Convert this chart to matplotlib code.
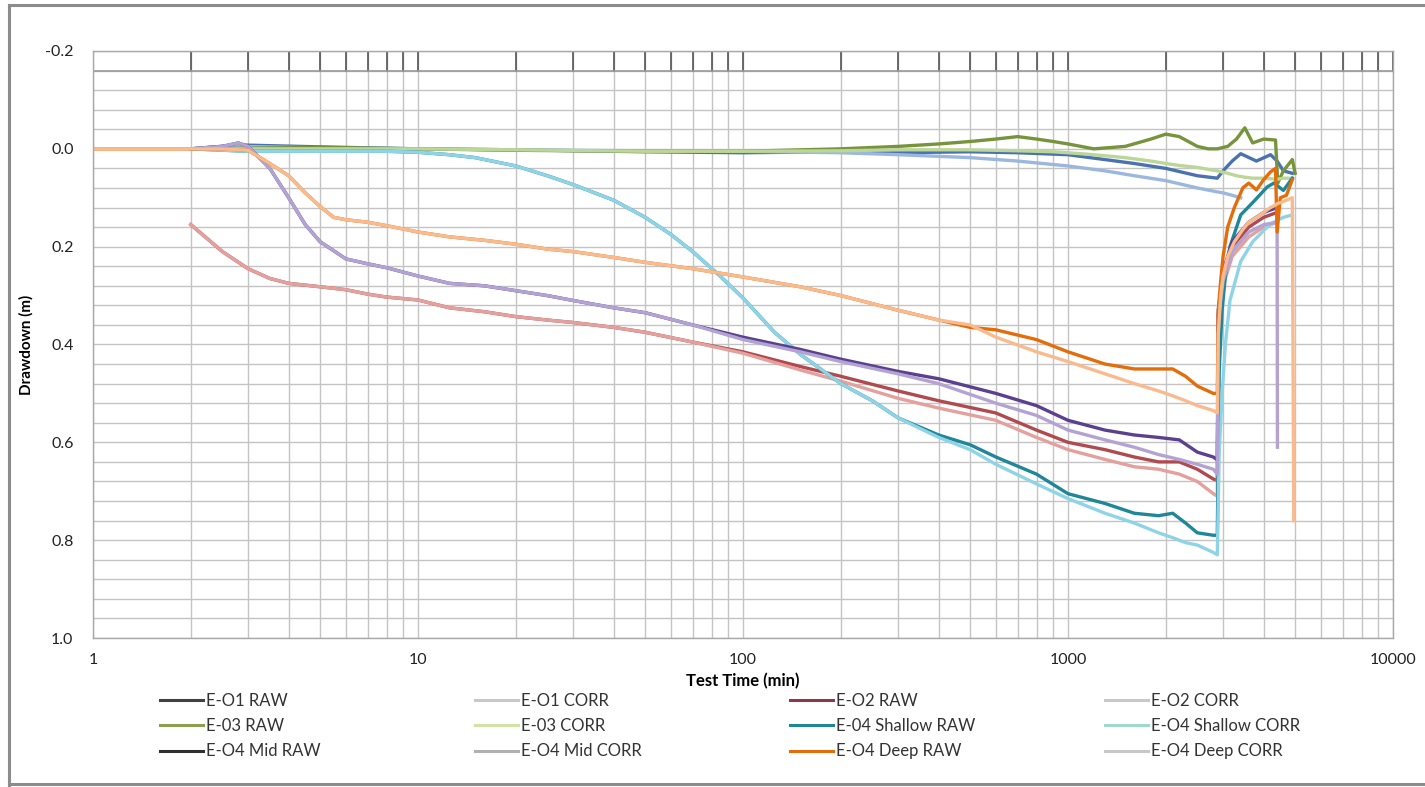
import numpy as np
import matplotlib
matplotlib.use('Agg')
import matplotlib.pyplot as plt
from matplotlib.ticker import MultipleLocator, FixedLocator, FixedFormatter, NullFormatter
from matplotlib.lines import Line2D

plt.rcParams['font.family'] = ['Lato', 'DejaVu Sans']
nan = np.nan

# ---- data (time in min, drawdown in m) ----
# E-O1
t_o1 = [2, 2.8, 5, 10, 20, 50, 100, 200, 300, 500, 700, 1000, 1300, 1600, 2000, 2500,
        2880, 3000, 3200, 3400, 3800, 4200, 4400, 4600, 4900]
o1_raw = [0, -0.008, -0.004, 0, 0.002, 0.006, 0.008, 0.006, 0.008, 0.006, 0.008, 0.012, 0.022, 0.03,
          0.04, 0.055, 0.06, 0.045, 0.025, 0.01, 0.025, 0.012, 0.025, 0.045, 0.05]
o1_corr = [0, -0.005, -0.002, 0, 0.002, 0.004, 0.005, 0.008, 0.012, 0.018, 0.025, 0.035, 0.045, 0.055,
           0.065, 0.08, 0.088, 0.09, 0.095, 0.1, nan, nan, nan, nan, nan]

# E-O2
t_o2 = [2, 2.5, 3, 3.5, 4, 5, 6, 7, 8, 10, 12.5, 16, 20, 25, 30, 40, 50, 70, 100, 150, 200, 300,
        400, 600, 800, 1000, 1300, 1600, 1900, 2200, 2500, 2800, 2880,
        2900, 3000, 3200, 3600, 4000, 4400]
o2_raw = [0.155, 0.21, 0.245, 0.265, 0.275, 0.282, 0.288, 0.297, 0.303, 0.309, 0.325, 0.333, 0.343,
          0.35, 0.355, 0.365, 0.375, 0.395, 0.415, 0.445, 0.465, 0.495, 0.515, 0.54, 0.575, 0.6,
          0.615, 0.63, 0.64, 0.64, 0.655, 0.675, 0.678,
          0.34, 0.26, 0.2, 0.16, 0.14, 0.13]
o2_corr = [0.155, 0.21, 0.245, 0.265, 0.275, 0.282, 0.288, 0.297, 0.303, 0.309, 0.325, 0.333, 0.343,
           0.35, 0.355, 0.365, 0.375, 0.395, 0.418, 0.452, 0.475, 0.51, 0.53, 0.555, 0.59, 0.615,
           0.635, 0.65, 0.655, 0.665, 0.68, 0.705, 0.71,
           0.36, 0.28, 0.22, 0.18, 0.16, 0.15]

# E-03
t_e3 = [2, 5, 10, 20, 50, 100, 200, 300, 400, 500, 600, 700, 800, 900, 1000, 1200, 1500, 1800,
        2000, 2200, 2500, 2700, 2880, 3100, 3300, 3500, 3700, 4000, 4350, 4420, 4600, 4900, 5000]
e3_raw = [0, -0.003, 0, 0.003, 0.005, 0.005, 0.0, -0.005, -0.01, -0.015, -0.02, -0.025, -0.02,
          -0.015, -0.01, 0.0, -0.005, -0.02, -0.03, -0.025, -0.005, 0.0, 0.0, -0.005, -0.02,
          -0.043, -0.012, -0.02, -0.018, 0.07, 0.045, 0.022, 0.05]
e3_corr = [0, 0, 0, 0.002, 0.005, 0.005, 0.004, 0.002, 0.002, 0.002, 0.003, 0.004, 0.005, 0.006,
           0.008, 0.012, 0.018, 0.025, 0.03, 0.034, 0.038, 0.042, 0.045, 0.05, 0.055, 0.058, 0.06,
           0.06, 0.062, 0.062, 0.06, 0.06, nan]

# E-O4 Shallow
t_sh = [2, 3, 5, 8, 10, 12.5, 15, 20, 25, 30, 40, 50, 60, 70, 85, 100, 125, 150, 200, 250, 300,
        400, 500, 600, 800, 1000, 1300, 1600, 1900, 2100, 2300, 2500, 2800, 2880,
        2920, 2980, 3050, 3150, 3400, 3700, 4100, 4300, 4600, 4900]
sh_raw = [0, 0.005, 0.005, 0.005, 0.007, 0.012, 0.018, 0.035, 0.055, 0.073, 0.105, 0.14, 0.175,
          0.21, 0.26, 0.305, 0.375, 0.42, 0.48, 0.515, 0.55, 0.585, 0.605, 0.63, 0.665, 0.705,
          0.725, 0.745, 0.75, 0.745, 0.765, 0.785, 0.79, 0.79,
          0.45, 0.33, 0.26, 0.2, 0.135, 0.11, 0.078, 0.07, 0.085, 0.06]
sh_corr = [0, 0.005, 0.005, 0.005, 0.007, 0.012, 0.018, 0.035, 0.055, 0.073, 0.105, 0.14, 0.175,
           0.21, 0.26, 0.305, 0.375, 0.42, 0.48, 0.515, 0.55, 0.59, 0.615, 0.645, 0.685, 0.715,
           0.745, 0.765, 0.785, 0.795, 0.805, 0.81, 0.825, 0.83,
           0.62, 0.5, 0.4, 0.31, 0.23, 0.19, 0.16, 0.15, 0.14, 0.135]

# E-O4 Mid
t_md = [2, 2.5, 2.8, 3, 3.5, 4, 4.5, 5, 6, 7, 8, 10, 12.5, 16, 20, 25, 30, 40, 50, 70, 100, 150,
        200, 300, 400, 600, 800, 1000, 1300, 1600, 1900, 2200, 2500, 2800, 2880,
        2900, 3000, 3200, 3600, 4000, 4400, 4410]
md_raw = [0, -0.005, -0.012, -0.005, 0.04, 0.1, 0.155, 0.19, 0.225, 0.235, 0.243, 0.26, 0.275,
          0.28, 0.29, 0.3, 0.31, 0.325, 0.335, 0.36, 0.385, 0.41, 0.43, 0.455, 0.47, 0.5, 0.525,
          0.555, 0.575, 0.585, 0.59, 0.595, 0.62, 0.63, 0.636,
          0.33, 0.25, 0.19, 0.15, 0.13, 0.12, nan]
md_corr = [0, -0.005, -0.012, -0.005, 0.04, 0.1, 0.155, 0.19, 0.225, 0.235, 0.243, 0.26, 0.275,
           0.28, 0.29, 0.3, 0.31, 0.325, 0.335, 0.36, 0.39, 0.415, 0.435, 0.46, 0.48, 0.52, 0.545,
           0.575, 0.595, 0.61, 0.625, 0.635, 0.645, 0.655, 0.665,
           0.35, 0.27, 0.21, 0.17, 0.155, 0.15, 0.61]

# E-O4 Deep
t_dp = [1, 2, 2.5, 3, 3.5, 4, 4.5, 5, 5.5, 6, 7, 8, 10, 12.5, 16, 20, 25, 30, 40, 50, 70, 100,
        150, 200, 300, 400, 500, 600, 800, 1000, 1300, 1600, 1900, 2100, 2300, 2500, 2800, 2880,
        2900, 2950, 3000, 3100, 3250, 3450, 3600, 3800, 4000, 4200, 4350, 4400, 4500, 4700,
        4900, 4950]
dp_raw = [0, 0, 0, 0.003, 0.03, 0.055, 0.09, 0.118, 0.14, 0.145, 0.15, 0.157, 0.17, 0.18, 0.187,
          0.195, 0.205, 0.21, 0.222, 0.232, 0.245, 0.262, 0.282, 0.3, 0.33, 0.35, 0.365, 0.37,
          0.39, 0.415, 0.44, 0.45, 0.45, 0.45, 0.465, 0.485, 0.5, 0.5,
          0.33, 0.27, 0.22, 0.16, 0.12, 0.08, 0.07, 0.084, 0.063, 0.047, 0.04, 0.17, 0.1, 0.095,
          0.063, nan]
dp_corr = [0, 0, 0, 0.003, 0.03, 0.055, 0.09, 0.118, 0.14, 0.145, 0.15, 0.157, 0.17, 0.18, 0.187,
           0.195, 0.205, 0.21, 0.222, 0.232, 0.245, 0.262, 0.282, 0.3, 0.33, 0.35, 0.36, 0.385,
           0.415, 0.435, 0.46, 0.48, 0.495, 0.505, 0.515, 0.525, 0.535, 0.54,
           0.38, 0.3, 0.26, 0.22, 0.19, 0.165, 0.15, 0.14, 0.13, 0.12, 0.115, 0.112, 0.11, 0.105,
           0.1, 0.76]

labels = ['E-O1 RAW', 'E-O1 CORR', 'E-O2 RAW', 'E-O2 CORR',
          'E-03 RAW', 'E-03 CORR', 'E-04 Shallow RAW', 'E-O4 Shallow CORR',
          'E-O4 Mid RAW', 'E-O4 Mid CORR', 'E-O4 Deep RAW', 'E-O4 Deep CORR']
series = [(t_o1, o1_raw), (t_o1, o1_corr), (t_o2, o2_raw), (t_o2, o2_corr),
          (t_e3, e3_raw), (t_e3, e3_corr), (t_sh, sh_raw), (t_sh, sh_corr),
          (t_md, md_raw), (t_md, md_corr), (t_dp, dp_raw), (t_dp, dp_corr)]
line_colors = ['#4a72b0', '#9bb7de', '#b04a4e', '#e3a09c',
               '#77933c', '#bcd698', '#1f8798', '#8fd3e6',
               '#5c4090', '#b2a3d3', '#e46c0a', '#f9bb8e']
legend_colors = ['#404040', '#c8c8c8', '#8b3a4a', '#c8c8c8',
                 '#8aa050', '#d2e2a4', '#1f8798', '#9fd8cc',
                 '#303030', '#b0b0b0', '#e46c0a', '#c8c8c8']

fig = plt.figure(figsize=(14.25, 7.87), dpi=100)
ax = fig.add_axes([93 / 1425, 1 - 638 / 787, 1300 / 1425, 587 / 787])

for (t, d), c in zip(series, line_colors):
    ax.plot(t, d, color=c, lw=2.4, solid_joinstyle='round')

ax.set_xscale('log')
ax.set_xlim(1, 10000)
ax.set_ylim(1.0, -0.2)

ax.xaxis.set_major_locator(FixedLocator([1, 10, 100, 1000, 10000]))
ax.xaxis.set_major_formatter(FixedFormatter(['1', '10', '100', '1000', '10000']))
minors = [m * 10 ** k for k in range(4) for m in range(2, 10)]
ax.xaxis.set_minor_locator(FixedLocator(minors))
ax.xaxis.set_minor_formatter(NullFormatter())
ax.yaxis.set_major_locator(MultipleLocator(0.2))
ax.yaxis.set_minor_locator(MultipleLocator(0.04))
ax.yaxis.set_major_formatter(plt.FuncFormatter(lambda v, p: f'{v:.1f}'))

ax.grid(True, which='both', color='#c4c4c4', lw=1.0)
ax.set_axisbelow(True)
ax.tick_params(which='both', length=0)
ax.tick_params(axis='x', pad=11, labelsize=11.5, colors='#222222')
ax.tick_params(axis='y', pad=14, labelsize=11.5, colors='#222222')
for s in ax.spines.values():
    s.set_color('#a8a8a8')
    s.set_linewidth(1.0)

# darker tick marks in the top band of the chart
band = 0.04 / 1.2
for x in [1, 10, 100, 1000, 10000] + minors:
    ax.axvline(x, ymin=1 - band, ymax=1, color='#555555', lw=1.2, zorder=1)
ax.axhline(-0.16, color='#9a9a9a', lw=1.2, zorder=1)

ax.set_xlabel('Test Time (min)', fontsize=12, fontweight='bold', labelpad=4)
ax.set_ylabel('Drawdown (m)', fontsize=11, fontweight='bold', labelpad=8)

# legend, 4 columns x 3 rows
col_x = [160 / 1425, 475 / 1425, 790 / 1425, 1105 / 1425]
for ci in range(4):
    idx = [ci, ci + 4, ci + 8]
    handles = [Line2D([], [], color=legend_colors[i], lw=2.2) for i in idx]
    fig.legend(handles, [labels[i] for i in idx], loc='upper left',
               bbox_to_anchor=(col_x[ci], 1 - 693 / 787), frameon=False, fontsize=12,
               handlelength=2.6, handletextpad=0.15, labelspacing=0.55, borderpad=0,
               borderaxespad=0, labelcolor='#333333')

# outer frame
for xs, ys in [([9 / 1425, 9 / 1425], [2 / 787, 782 / 787]),
               ([9 / 1425, 1.0], [782 / 787, 782 / 787]),
               ([9 / 1425, 1.0], [3 / 787, 3 / 787])]:
    fig.add_artist(Line2D(xs, ys, color='#8c8c8c', lw=2.2))

fig.savefig('out.png', dpi=100)
